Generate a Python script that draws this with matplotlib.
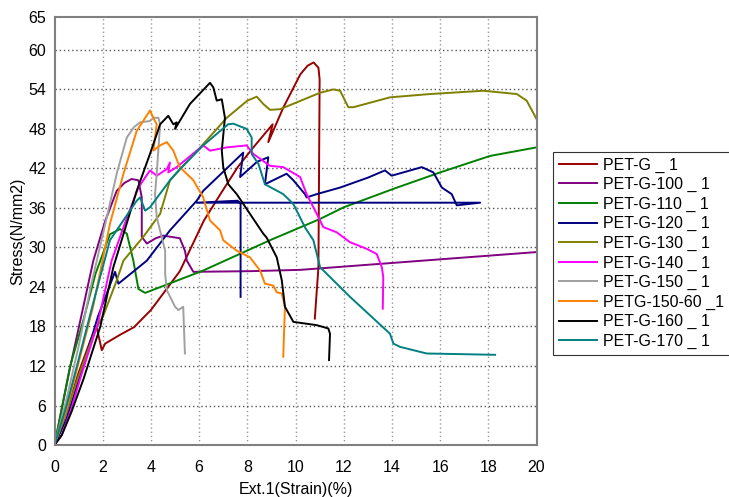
import matplotlib.pyplot as plt

plt.rcParams['font.family'] = ['Liberation Sans', 'DejaVu Sans']

# curve data (strain %, stress N/mm2)
labels = ["PET-G _ 1", "PET-G-100 _ 1", "PET-G-110 _ 1", "PET-G-120 _ 1",
          "PET-G-130 _ 1", "PET-G-140 _ 1", "PET-G-150 _ 1", "PETG-150-60 _1",
          "PET-G-160 _ 1", "PET-G-170 _ 1"]
colors = ["#990000", "#800080", "#008000", "#000080", "#808000",
          "#FF00FF", "#A0A0A0", "#FF8000", "#000000", "#008080"]

petg_x = [0, 0.5, 1.0, 1.5, 1.75, 1.96, 2.1, 2.7, 3.3, 4.0, 5.2, 6.2, 6.9, 7.6,
          8.25, 9.05, 8.87, 9.5, 10.2, 10.5, 10.75, 10.95, 11.0, 10.95, 10.8]
petg_y = [0, 5, 11, 16, 17.9, 14.4, 15.4, 16.7, 17.9, 20.5, 26.4, 34.1, 38.2, 42.2,
          45.2, 48.7, 46.0, 51.3, 56.3, 57.6, 58.1, 57.3, 55.5, 27, 19.2]

p100_x = [0, 0.6, 1.61, 2.1, 2.58, 2.9, 3.2, 3.48, 3.62, 3.62, 3.83, 4.2, 4.51,
          5.2, 5.41, 5.49, 5.76, 8.1, 10.2, 20.0]
p100_y = [0, 11, 28, 34, 38.6, 39.8, 40.4, 40.2, 37.6, 31.6, 30.6, 31.4, 31.8,
          31.4, 29.5, 28.0, 26.3, 26.4, 26.6, 29.3]

p110_x = [0, 0.65, 1.2, 1.7, 2.3, 2.72, 3.0, 3.27, 3.48, 3.76, 6.17, 8.94, 11.0,
          12.0, 14.06, 16.0, 18.07, 20.0]
p110_y = [0, 12, 19, 26, 32.0, 32.8, 32.1, 28.0, 23.7, 23.1, 26.5, 31.1, 34.3,
          36.1, 38.9, 41.4, 43.9, 45.2]

p120_x = [0, 0.5, 1.1, 1.8, 2.51, 2.65, 3.83, 4.79, 5.9, 6.17, 7.0, 7.83, 7.7,
          8.4, 8.87, 8.73, 9.63, 9.91, 10.39, 10.46, 10.88, 11.85, 13.0, 13.71,
          13.99, 15.24, 15.72, 16.07, 16.48, 16.69, 17.66, 5.9, 7.6, 7.72, 7.72]
p120_y = [0, 4, 11, 19.5, 26.3, 24.5, 28.0, 32.6, 37.1, 38.6, 41.5, 44.4, 40.7,
          43.0, 43.7, 39.6, 41.2, 40.2, 38.1, 37.6, 38.1, 39.1, 40.6, 41.7,
          40.9, 42.2, 41.4, 39.1, 38.1, 36.4, 36.8, 36.8, 37.1, 36.6, 22.5]

p130_x = [0, 0.5, 1.0, 1.5, 1.75, 2.03, 2.58, 2.86, 3.2, 3.68, 4.38, 4.79, 6.17,
          7.15, 8.0, 8.39, 8.66, 8.94, 9.36, 11.02, 11.57, 11.85, 12.19, 12.4,
          13.92, 15.58, 17.79, 19.18, 19.59, 20.0]
p130_y = [0, 5, 10.5, 15.5, 17.9, 19.7, 25.0, 28.0, 29.5, 31.6, 35.1, 40.2, 45.7,
          49.7, 52.3, 52.9, 51.8, 50.9, 51.0, 53.5, 54.0, 53.8, 51.3, 51.3,
          52.8, 53.3, 53.8, 53.3, 52.3, 49.5]

p140_x = [0, 0.3, 0.7, 1.1, 1.8, 2.37, 3.0, 3.48, 3.96, 4.24, 4.66, 4.79, 4.72,
          5.07, 6.17, 6.45, 7.15, 7.97, 8.25, 8.94, 9.49, 10.19, 10.46, 10.95,
          11.15, 11.71, 12.26, 12.95, 13.37, 13.58, 13.64, 13.62]
p140_y = [0, 1.5, 5.5, 10.5, 18.5, 28.0, 34.5, 39.1, 41.7, 40.9, 41.9, 42.9, 41.4,
          42.2, 45.5, 44.7, 45.2, 45.5, 44.2, 42.4, 42.2, 40.7, 38.1, 34.6,
          33.1, 32.3, 30.8, 29.8, 29.0, 27.0, 25.5, 20.7]

p150_x = [0, 0.5, 1.0, 1.5, 2.17, 2.6, 3.0, 3.3, 3.55, 3.96, 4.1, 4.31, 4.38,
          4.24, 4.17, 4.24, 4.59, 4.59, 4.66, 5.0, 5.14, 5.34, 5.41]
p150_y = [0, 7, 15, 24, 34.6, 41.5, 46.7, 48.3, 49.0, 49.2, 49.7, 49.7, 48.7,
          41.2, 38.1, 34.6, 29.5, 26.0, 23.5, 21.0, 20.5, 21.0, 13.9]

p15060_x = [0, 0.5, 1.0, 1.6, 2.3, 2.86, 3.41, 3.96, 4.1, 4.24, 4.1, 4.38, 4.66,
            4.93, 5.14, 5.2, 5.76, 6.17, 6.45, 6.87, 7.0, 7.56, 8.11, 8.53,
            8.73, 9.08, 9.22, 9.43, 9.56, 9.49]
p15060_y = [0, 5.5, 12.5, 21, 33.6, 41.2, 47.7, 50.8, 49.7, 48.7, 44.7, 45.5, 46.0,
            44.7, 42.7, 42.2, 40.2, 37.6, 34.1, 32.6, 31.1, 29.5, 28.5, 26.5,
            24.5, 24.2, 23.2, 23.0, 21.0, 13.4]

p160_x = [0, 0.3, 0.7, 1.2, 1.9, 2.44, 3.41, 3.96, 4.38, 4.72, 4.93, 5.07, 5.0,
          5.62, 6.45, 6.59, 6.73, 6.94, 7.07, 6.94, 7.0, 7.21, 7.56, 8.11, 8.66,
          8.8, 9.22, 9.43, 9.56, 9.91, 10.88, 11.36, 11.43, 11.39]
p160_y = [0, 1.5, 5, 10, 18, 27.0, 38.6, 44.2, 48.7, 50.0, 48.7, 49.0, 48.0,
          51.8, 55.0, 54.3, 52.3, 52.5, 49.7, 44.7, 42.2, 39.6, 38.1, 35.1, 32.1,
          31.5, 28.5, 25.0, 21.0, 18.7, 18.2, 17.7, 16.9, 12.9]

p170_x = [0, 0.5, 1.0, 1.6, 2.3, 3.41, 3.55, 3.76, 3.96, 4.79, 5.2, 6.17, 7.2,
          7.42, 7.97, 8.18, 8.18, 8.46, 8.73, 9.49, 9.91, 10.4, 10.74, 11.02,
          11.71, 12.26, 13.09, 13.92, 14.06, 14.34, 15.44, 18.28]
p170_y = [0, 6, 13, 21.5, 31.1, 37.1, 37.6, 35.6, 36.1, 40.2, 41.9, 45.5, 48.7,
          48.8, 48.0, 46.7, 44.2, 42.7, 39.6, 38.1, 36.6, 33.0, 31.1, 27.0,
          24.5, 22.5, 19.7, 16.9, 15.4, 14.9, 13.9, 13.7]

xs = [petg_x, p100_x, p110_x, p120_x, p130_x, p140_x, p150_x, p15060_x, p160_x, p170_x]
ys = [petg_y, p100_y, p110_y, p120_y, p130_y, p140_y, p150_y, p15060_y, p160_y, p170_y]

x_ticks = list(range(0, 21, 2))
y_ticks = [0, 6, 12, 18, 24, 30, 36, 42, 48, 54, 60, 65]

fig = plt.figure(figsize=(7.29, 4.97), dpi=100)
ax = fig.add_axes([0.0748, 0.1046, 0.6612, 0.8612])

for x, y, c, lab in zip(xs, ys, colors, labels):
    ax.plot(x, y, color=c, lw=1.4, label=lab)

ax.set_xlim(0, 20)
ax.set_ylim(0, 65)
ax.set_xticks(x_ticks)
ax.set_yticks(y_ticks)
ax.tick_params(length=0, labelsize=11.5)
ax.tick_params(axis="x", pad=11)
ax.tick_params(axis="y", pad=6)

# dotted grid, no line at the top edge
for gx in x_ticks[1:-1]:
    ax.axvline(gx, color="#999999", lw=1.0, ls=(0, (1, 2)), zorder=0)
for gy in y_ticks[1:-1]:
    ax.axhline(gy, color="#555555", lw=1.0, ls=(0, (1, 2)), zorder=0)

for s in ax.spines.values():
    s.set_color("#808080")
    s.set_linewidth(1.5)

ax.set_xlabel("Ext.1(Strain)(%)", fontsize=11.5, labelpad=5)
ax.set_ylabel("Stress(N/mm2)", fontsize=11.5, labelpad=2)

leg = ax.legend(loc="upper left", bbox_to_anchor=(1.034, 0.685), fontsize=11.5,
                frameon=True, fancybox=False, edgecolor="black",
                borderaxespad=0, handlelength=2.4, handletextpad=0.4,
                labelspacing=0.28, borderpad=0.35)
leg.get_frame().set_linewidth(0.8)

fig.savefig("out.png", dpi=100)
